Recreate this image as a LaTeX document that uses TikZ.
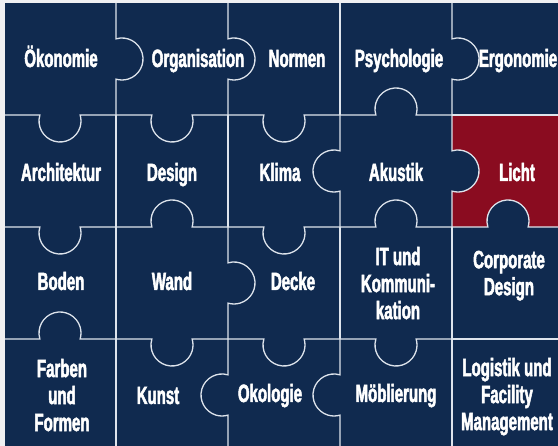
\documentclass[tikz,border=0pt]{standalone}
\usepackage{fontspec}
\newfontfamily\tilefont[FakeStretch=0.6,FakeBold=2]{Liberation Sans}
\definecolor{navy}{RGB}{16,42,79}
\definecolor{lichtred}{RGB}{138,12,32}
\definecolor{seamgray}{RGB}{222,228,236}
\definecolor{paper}{RGB}{240,240,242}
\def\cell{112}
\def\kr{21}     % knob radius
\def\kd{6}      % offset of the knob centre from the seam
\def\ka{16.60}  % asin(kd/kr)
\def\kh{20.12}  % half width of the knob neck

\begin{document}
\begin{tikzpicture}[x=1pt,y=1pt]
		\tikzstyle{seam}=[draw=seamgray,line width=1.3pt]
		\tikzstyle{word}=[text=white,inner sep=0pt,font=\tilefont\bfseries\fontsize{25}{27}\selectfont,text depth=0pt]
		\tikzstyle{one line}=[word,text height=18pt]
		\tikzstyle{lines}=[word,align=center]

		\useasboundingbox (0,0) rectangle (558,446);
		\fill[paper] (0,0) rectangle (558,446);

		\begin{scope}
		\clip (5,0) rectangle (558,443);
		\fill[navy] (5,0) rectangle (558,443);

			% The red tile, with the two knobs of its neighbours
		\fill[lichtred] (452,219) rectangle (564,331);
		\fill[navy] (452+\kd,275) circle[radius=\kr];
		\fill[navy] (508,219+\kd) circle[radius=\kr];

			% Vertical seams: line / row / knob (1 right, -1 left, 0 none)
		\foreach \i/\r/\s in {1/1/1,2/1/1,3/1/0,4/1/1,
			1/2/0,2/2/0,3/2/-1,4/2/1,
			1/3/0,2/3/1,3/3/0,4/3/0,
			1/4/0,2/4/-1,3/4/-1,4/4/0}
		{
		\pgfmathsetmacro\seamx{4+\cell*\i}
		\pgfmathsetmacro\seamtop{443-\cell*(\r-1)}
		\pgfmathsetmacro\seammid{443-\cell*(\r-0.5)}
		\pgfmathsetmacro\seambot{443-\cell*\r}
		\draw[seam] (\seamx,\seamtop) -- (\seamx,\seammid+\kh)
			arc[start angle={90+(\s)*\ka}, delta angle={(0-\s)*(180+2*\ka)}, radius=\kr]
			-- (\seamx,\seambot);
		}

			% Horizontal seams: line / column / knob (1 up, -1 down, 0 none)
		\foreach \j/\c/\s in {1/1/-1,1/2/-1,1/3/-1,1/4/1,1/5/0,
			2/1/-1,2/2/1,2/3/-1,2/4/1,2/5/1,
			3/1/1,3/2/-1,3/3/-1,3/4/-1,3/5/0}
		{
		\pgfmathsetmacro\seamy{443-\cell*\j}
		\pgfmathsetmacro\seamleft{4+\cell*(\c-1)}
		\pgfmathsetmacro\seammid{4+\cell*(\c-0.5)}
		\pgfmathsetmacro\seamright{4+\cell*\c}
		\draw[seam] (\seamleft,\seamy) -- (\seammid-\kh,\seamy)
			arc[start angle={180+(\s)*\ka}, delta angle={(0-\s)*(180+2*\ka)}, radius=\kr]
			-- (\seamright,\seamy);
		}
		\end{scope}

			% Labels of the tiles
		\foreach \name/\x/\y/\word in {oekonomie/61/388/Ökonomie,
			organisation/198/388/Organisation, normen/297/388/Normen,
			psychologie/399/388/Psychologie, ergonomie/518/388/Ergonomie,
			architektur/61/274/Architektur, design/172/274/Design,
			klima/280/274/Klima, akustik/396/274/Akustik, licht/517/274/Licht,
			boden/61/165/Boden, wand/172/165/Wand, decke/293/165/Decke,
			kunst/158/51/Kunst, okologie/270/53/Okologie,
			moeblierung/396/53/Möblierung}
		\node[one line] (\name) at (\x,\y) {\word};

		\node[lines] (itkomm) at (398,163) {IT und\\Kommuni-\\kation};
		\node[lines] (corporate) at (509,173) {Corporate\\Design};
		\node[lines] (farben) at (62,51) {Farben\\und\\Formen};
		\node[lines] (logistik) at (507,52) {Logistik und\\Facility\\Management};
\end{tikzpicture}
\end{document}
